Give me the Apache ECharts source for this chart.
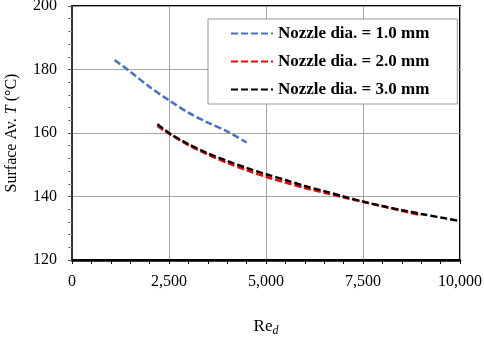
<!DOCTYPE html>
<html>
<head>
<meta charset="utf-8">
<script src="https://cdn.jsdelivr.net/npm/echarts@6/dist/echarts.min.js"></script>
<style>
html, body { margin: 0; padding: 0; background: #fff; }
#chart { width: 484px; height: 337px; }
</style>
</head>
<body>
<div id="chart"></div>
<script>
// Re_d and surface average temperature for each nozzle diameter
var re1 = [1100, 1500, 2000, 2500, 3000, 3500, 4000, 4500];
var t1 = [183, 179.3, 174.5, 170.3, 166.4, 163.3, 160.5, 157];
var re2 = [2200, 2500, 3000, 3500, 4000, 4500, 5000, 5500, 6000, 6500, 7000, 7500, 8000, 8500, 9000];
var t2 = [162.2, 159.8, 156.2, 153.2, 150.6, 148.3, 146.2, 144.4, 142.7, 141.2, 139.7, 138.3, 136.9, 135.5, 134.1];
var re3 = [2200, 2500, 3000, 3500, 4000, 4500, 5000, 5500, 6000, 6500, 7000, 7500, 8000, 8500, 9000, 9500, 10000];
var t3 = [162.8, 160, 156.5, 153.6, 151.2, 149, 147, 145.2, 143.3, 141.7, 140, 138.4, 137, 135.7, 134.5, 133.4, 132.3];
var names = ['Nozzle dia. = 1.0 mm', 'Nozzle dia. = 2.0 mm', 'Nozzle dia. = 3.0 mm'];
var colors = ['#4472C4', '#FF0000', '#000000'];

function pairs(xs, ys) {
	var out = [];
	for (var i = 0; i < xs.length; i++) {
		out.push([xs[i], ys[i]]);
	}
	return out;
}

function fmt(v) {
	return String(v).replace(/\B(?=(\d{3})+(?!\d))/g, ',');
}

var serif = '"Liberation Serif", "Times New Roman", serif';
var myChart = echarts.init(document.getElementById('chart'));

function makeSeries(i, xs, ys) {
	return {
		name: names[i],
		type: 'line',
		data: pairs(xs, ys),
		symbol: 'none',
		smooth: 0.3,
		z: 3 + i,
		lineStyle: { color: colors[i], width: 2.5, type: [7, 3] },
		itemStyle: { color: colors[i] }
	};
}

var option = {
	animation: false,
	backgroundColor: '#fff',
	grid: {
		left: 72, right: 24, top: 6, bottom: 77,
		outerBoundsMode: 'none',
		show: true, borderColor: '#000', borderWidth: 2
	},
	legend: {
		left: 208, top: 19,
		orient: 'vertical',
		backgroundColor: '#fff',
		borderColor: '#999',
		borderWidth: 1,
		padding: [6, 28, 6, 22],
		itemWidth: 42, itemHeight: 14, itemGap: 11,
		itemStyle: { opacity: 0 },
		textStyle: { fontFamily: serif, fontWeight: 'bold', fontSize: 17, color: '#000' },
		data: names
	},
	xAxis: {
		type: 'value',
		min: 0, max: 10000, interval: 2500,
		name: '{a|Re}{b|d}',
		nameLocation: 'middle',
		nameGap: 57,
		nameTextStyle: {
			rich: {
				a: { fontFamily: serif, fontSize: 17, color: '#000' },
				b: { fontFamily: serif, fontSize: 12, fontStyle: 'italic', color: '#000', verticalAlign: 'bottom', padding: [8, 0, 0, 0] }
			}
		},
		axisLine: { lineStyle: { color: '#000', width: 2.5 } },
		axisTick: { show: true, inside: false, length: 4, lineStyle: { color: '#000' } },
		minorTick: { show: true, splitNumber: 5, length: 4, lineStyle: { color: '#000' } },
		axisLabel: { fontFamily: serif, fontSize: 16, color: '#000', margin: 14, formatter: fmt },
		splitLine: { lineStyle: { color: '#a6a6a6', width: 1 } }
	},
	yAxis: {
		type: 'value',
		min: 120, max: 200, interval: 20,
		name: '{a|Surface Av. }{b|T}{a| (°C)}',
		nameLocation: 'middle',
		nameGap: 52,
		nameTextStyle: {
			rich: {
				a: { fontFamily: serif, fontSize: 16, color: '#000' },
				b: { fontFamily: serif, fontSize: 16, fontStyle: 'italic', color: '#000' }
			}
		},
		axisLine: { show: true, lineStyle: { color: '#333', width: 2 } },
		axisTick: { show: true, inside: false, length: 4, lineStyle: { color: '#555' } },
		minorTick: { show: true, splitNumber: 5, length: 4, lineStyle: { color: '#888' } },
		axisLabel: { fontFamily: serif, fontSize: 16, color: '#000', margin: 15 },
		splitLine: { lineStyle: { color: '#a6a6a6', width: 1 } }
	},
	series: [
		makeSeries(0, re1, t1),
		makeSeries(1, re2, t2),
		makeSeries(2, re3, t3)
	]
};

myChart.setOption(option);
</script>
</body>
</html>
